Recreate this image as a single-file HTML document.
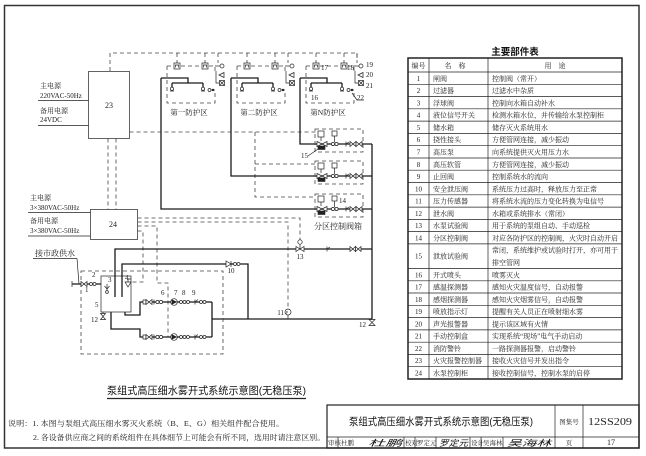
<!DOCTYPE html>
<html><head><meta charset="utf-8">
<style>
html,body{margin:0;padding:0;background:#fff;}
svg{display:block;}
.t{font-family:"Liberation Serif","Noto Serif CJK SC",serif;fill:#222;}
.s{font-family:"Liberation Sans","Noto Sans CJK SC",sans-serif;fill:#111;}
.p{fill:none;stroke:#1a1a1a;stroke-width:1.3;}
.d{fill:none;stroke:#444;stroke-width:0.8;stroke-dasharray:4 3;}
.l{fill:none;stroke:#222;stroke-width:0.7;}
.f{fill:#fff;stroke:#222;stroke-width:0.7;}
.k{fill:#222;stroke:#222;stroke-width:0.6;}
</style></head><body>
<svg width="646" height="456" viewBox="0 0 646 456" xmlns="http://www.w3.org/2000/svg">
<rect width="646" height="456" fill="#fff"/>
<rect x="4.5" y="5.5" width="634.5" height="442.5" fill="none" stroke="#333" stroke-width="1.5"/>

<g class="t" font-size="7">
<text x="40" y="88">主电源</text>
<text x="40" y="98">220VAC-50Hz</text>
<text x="40" y="113">备用电源</text>
<text x="40" y="122">24VDC</text>
<text x="30" y="200">主电源</text>
<text x="30" y="210">3×380VAC-50Hz</text>
<text x="30" y="223">备用电源</text>
<text x="30" y="233">3×380VAC-50Hz</text>
</g>
<path class="l" d="M38,100.5H88.5M38,125.5H88.5M28,212.5H90.5M28,236H90.5"/>
<rect x="88.5" y="71.5" width="41" height="67" class="f"/>
<text x="109" y="108" class="t" font-size="8" text-anchor="middle">23</text>
<rect x="90.5" y="209.5" width="47" height="30" class="f"/>
<text x="113" y="227" class="t" font-size="8" text-anchor="middle">24</text>

<path class="d" d="M110,71V53H357V60"/>
<path class="d" d="M108,138.5V209.5M116,138.5V209.5"/>
<path class="d" d="M129.5,132H316M255,132V197H316M255,164H316"/>
<path class="d" d="M137.5,218H300V240M137.5,222H288V309"/>
<path class="d" d="M137.5,226H157V283H168V337"/>
<path class="d" d="M137.5,231H143V282H131"/>

<g id="zone">
<path class="p" d="M161,78H188V83M172,83H203M172,83V87M203,83V87"/>
<circle cx="172" cy="88.8" r="1.6" class="f"/>
<circle cx="203" cy="88.8" r="1.6" class="f"/>
<path class="l" d="M170,91H174M201,91H205"/>
<path class="d" d="M167,66V103H215V91M167,66H215V71"/>
<path class="d" d="M177,53V63M205,53V63M218,53V63"/>
<rect x="174" y="63" width="6" height="6" class="f"/>
<path class="l" d="M175.5,67.5V65H178.5V67.5"/>
<rect x="202" y="63" width="6" height="6" class="f"/>
<path class="l" d="M203.5,67.5V65H206.5V67.5"/>
<path class="l" d="M215,66H220"/>
<circle cx="222" cy="66" r="2" class="f"/>
<path class="f" d="M219,75L224,72.5L224,77.5Z"/>
<path class="l" d="M216,71V83H219.5"/>
<rect x="219.5" y="80.5" width="5" height="5" class="f"/>
<path class="l" d="M219.5,80.5L224.5,85.5M224.5,80.5L219.5,85.5"/>
<circle cx="209.5" cy="90" r="1.5" class="f"/>
<circle cx="213" cy="90" r="0.9" class="k"/>
<path class="l" d="M211,90H215"/>
</g>
<use href="#zone" x="70"/>
<use href="#zone" x="139"/>

<g class="t" font-size="7.5" text-anchor="middle">
<text x="189" y="115">第一防护区</text>
<text x="259" y="115">第二防护区</text>
<text x="328" y="115">第N防护区</text>
</g>
<g class="t" font-size="7">
<text x="311" y="100">16</text>
<text x="321" y="70">17</text>
<text x="347" y="70">18</text>
<text x="366" y="67">19</text>
<text x="366" y="77">20</text>
<text x="366" y="88">21</text>
<text x="357" y="100">22</text>
</g>
<path class="l" d="M352,93L357,100H364"/>

<path class="p" d="M161,78V209H372M231,78V176H372M300,78V144H372M372,144V319M212,319H372"/>
<path class="p" d="M115,297V249H372M122,297V264H248V319"/>
<path class="p" d="M125,312V315H140V302H212M111,312V329H140V337H212M212,302V337"/>
<path class="p" d="M72,284H104"/>
<path class="l" d="M72,281V287"/>

<g id="vbox">
<path class="d" d="M315,129H363V152H315Z"/>
<rect x="318" y="131" width="6" height="6" class="f"/>
<rect x="332" y="131" width="5" height="5" class="f"/>
<path class="l" d="M321,137V141M334.5,136V142"/>
<path class="f" d="M317,141.5V146.5L327,141.5V146.5Z"/>
<circle cx="333" cy="144" r="1.6" class="f"/>
<circle cx="336.5" cy="144" r="1.6" class="f"/>
<path class="l" d="M346,141.5V146.5M346,144L349,142"/>
<path class="f" d="M350,141.5V146.5L356,141.5V146.5Z"/>
<path class="f" d="M356,141.5V146.5L362,141.5V146.5Z"/>
<rect x="318" y="146" width="7" height="3.5" class="k"/>
</g>
<use href="#vbox" y="32"/>
<use href="#vbox" y="65"/>
<path class="l" d="M308,156L318,149"/>
<g class="t" font-size="7">
<text x="301" y="158">15</text>
<text x="339" y="203">14</text>
</g>
<text x="338" y="229" class="t" font-size="8" text-anchor="middle">分区控制阀箱</text>

<circle cx="300" cy="242" r="2.2" class="f"/>
<path class="l" d="M300,244V249"/>
<path class="f" d="M296,246.5V251.5L304,246.5V251.5Z"/>
<path class="l" d="M327,246.5V251.5M327,249L330,247"/>
<path class="f" d="M350,246.5V251.5L355.5,246.5V251.5Z"/>
<path class="f" d="M355.5,246.5V251.5L361,246.5V251.5Z"/>
<text x="300" y="259" class="t" font-size="7" text-anchor="middle">13</text>

<path class="l" d="M288,315V319"/>
<circle cx="288" cy="312" r="3" class="f"/>
<text x="286" y="314" class="t" font-size="4">P</text>
<text x="284" y="315" class="t" font-size="7" text-anchor="end">11</text>

<path class="f" d="M369,319.5H375L369,325.5H375Z"/>
<text x="366" y="327" class="t" font-size="7" text-anchor="end">12</text>

<path class="f" d="M226,261L231,264L226,267Z"/>
<path class="l" d="M231,261V267"/>
<circle cx="235" cy="264" r="1.5" class="f"/>
<circle cx="238.5" cy="264" r="1.5" class="f"/>
<text x="231" y="273" class="t" font-size="7" text-anchor="middle">10</text>

<path class="d" d="M81,271H223V354H81Z"/>
<rect x="101" y="276" width="30" height="36" class="f"/>
<path class="p" d="M115,276V297M122,276V297"/>
<path class="l" d="M107,284V291M104.5,286L107,289L109.5,286"/>
<circle cx="107" cy="292" r="1.4" class="f"/>
<path class="f" d="M125,282H131L128,287Z"/>
<path class="l" d="M128,282V279H131"/>
<path class="l" d="M103,312V313.5"/>
<path class="f" d="M100.5,313.5H105.5L100.5,319.5H105.5Z"/>
<path class="f" d="M81,281.5V286.5L87,281.5V286.5Z"/>
<circle cx="91" cy="284" r="1.5" class="f"/>
<circle cx="94.5" cy="284" r="1.5" class="f"/>
<path class="l" d="M77,258.5L79,284"/>
<path class="l" d="M33,258.5H77"/>
<text x="35" y="256" class="t" font-size="8">接市政供水</text>
<g class="t" font-size="7">
<text x="85" y="292">1</text>
<text x="92" y="277">2</text>
<text x="108" y="282">3</text>
<text x="125" y="280">4</text>
<text x="95" y="307">5</text>
<text x="91" y="322">12</text>
<text x="161" y="295">6</text>
<text x="174" y="295">7</text>
<text x="182" y="295">8</text>
<text x="192" y="295">9</text>
</g>
<g id="pline">
<rect x="143" y="300" width="3" height="4" class="f"/>
<path class="f" d="M146,299.5V304.5L152,299.5V304.5Z"/>
<path class="l" d="M154,299.5V304.5"/>
<circle cx="157.5" cy="302" r="1.6" class="f"/>
<circle cx="161" cy="302" r="1.6" class="f"/>
<circle cx="174" cy="302" r="3.3" class="f"/>
<path class="k" d="M172,299.8L176.5,302L172,304.2Z"/>
<circle cx="181" cy="302" r="1.5" class="f"/>
<circle cx="184.5" cy="302" r="1.5" class="f"/>
<circle cx="188" cy="302" r="1.5" class="f"/>
<path class="l" d="M195,299.5V304.5M195,302L198,299.5"/>
<circle cx="201" cy="302" r="1.5" class="f"/>
<circle cx="204.5" cy="302" r="1.5" class="f"/>
</g>
<use href="#pline" y="35"/>

<text x="107" y="394" class="s" font-size="10.5" textLength="199" lengthAdjust="spacingAndGlyphs">泵组式高压细水雾开式系统示意图(无稳压泵)</text>
<path d="M107,398.5H306" stroke="#222" stroke-width="1.2"/>

<text x="8" y="426" class="t" font-size="7.5" textLength="276" lengthAdjust="spacingAndGlyphs">说明：1. 本图与泵组式高压细水雾灭火系统（B、E、G）相关组件配合使用。</text>
<text x="33" y="440" class="t" font-size="7.5" textLength="292" lengthAdjust="spacingAndGlyphs">2. 各设备供应商之间的系统组件在具体细节上可能会有所不同，选用时请注意区别。</text>

<rect x="327" y="405" width="312" height="43" fill="none" stroke="#222" stroke-width="1.2"/>
<path class="l" d="M327,437H639M555,405V448M583,405V448M338,437V448M404,437V448M415,437V448M436,437V448M470,437V448M481,437V448M503,437V448"/>
<text x="349" y="425" class="s" font-size="10.5" textLength="184" lengthAdjust="spacingAndGlyphs">泵组式高压细水雾开式系统示意图(无稳压泵)</text>
<text x="569" y="424" class="t" font-size="6.5" text-anchor="middle">图集号</text>
<text x="588" y="425" class="t" font-size="10" textLength="44" lengthAdjust="spacingAndGlyphs">12SS209</text>
<g class="t" font-size="6.5">
<text x="328" y="445">审核</text>
<text x="341" y="445">杜鹏</text>
<text x="405" y="445">校对</text>
<text x="417" y="445">罗定元</text>
<text x="471" y="445">设计</text>
<text x="483" y="445">吴海林</text>
<text x="569" y="445" text-anchor="middle">页</text>
<text x="611" y="445" text-anchor="middle" font-size="8">17</text>
</g>
<g class="s" font-size="8.5" font-style="italic" fill="#333">
<text x="368" y="446" textLength="34" lengthAdjust="spacingAndGlyphs">杜鹏</text>
<text x="439" y="446" textLength="29" lengthAdjust="spacingAndGlyphs">罗定元</text>
<text x="507" y="446" textLength="44" lengthAdjust="spacingAndGlyphs">吴海林</text>
</g>

<text x="515" y="55" class="s" font-size="9.5" font-weight="bold" text-anchor="middle">主要部件表</text>
<rect x="408" y="58" width="214" height="321" fill="none" stroke="#222" stroke-width="1.5"/>
<path class="l" d="M429,58V379M488,58V379M408,72H622M408,84.3H622M408,96.6H622M408,108.8H622M408,121.1H622M408,133.4H622M408,145.7H622M408,158H622M408,170.2H622M408,182.5H622M408,194.8H622M408,207.1H622M408,219.4H622M408,231.6H622M408,243.9H622M408,268.5H622M408,280.8H622M408,293H622M408,305.3H622M408,317.6H622M408,329.9H622M408,342.2H622M408,354.4H622M408,366.7H622"/>
<g class="t" font-size="7">
<text x="418.5" y="68" text-anchor="middle">编号</text>
<text x="455" y="68" text-anchor="middle">名　称</text>
<text x="555" y="68" text-anchor="middle">用　途</text>
</g>
<g class="t" font-size="7" text-anchor="middle">
<text x="418.5" y="80.8">1</text>
<text x="418.5" y="93.1">2</text>
<text x="418.5" y="105.4">3</text>
<text x="418.5" y="117.6">4</text>
<text x="418.5" y="129.9">5</text>
<text x="418.5" y="142.2">6</text>
<text x="418.5" y="154.5">7</text>
<text x="418.5" y="166.8">8</text>
<text x="418.5" y="179">9</text>
<text x="418.5" y="191.3">10</text>
<text x="418.5" y="203.6">11</text>
<text x="418.5" y="215.9">12</text>
<text x="418.5" y="228.2">13</text>
<text x="418.5" y="240.4">14</text>
<text x="418.5" y="258.7">15</text>
<text x="418.5" y="277.3">16</text>
<text x="418.5" y="289.6">17</text>
<text x="418.5" y="301.8">18</text>
<text x="418.5" y="314.1">19</text>
<text x="418.5" y="326.4">20</text>
<text x="418.5" y="338.7">21</text>
<text x="418.5" y="351">22</text>
<text x="418.5" y="363.2">23</text>
<text x="418.5" y="375.5">24</text>
</g>
<g class="t" font-size="7">
<text x="433" y="80.8">闸阀</text>
<text x="433" y="93.1">过滤器</text>
<text x="433" y="105.4">浮球阀</text>
<text x="433" y="117.6">液位信号开关</text>
<text x="433" y="129.9">储水箱</text>
<text x="433" y="142.2">挠性接头</text>
<text x="433" y="154.5">高压泵</text>
<text x="433" y="166.8">高压软管</text>
<text x="433" y="179">止回阀</text>
<text x="433" y="191.3">安全泄压阀</text>
<text x="433" y="203.6">压力传感器</text>
<text x="433" y="215.9">泄水阀</text>
<text x="433" y="228.2">水泵试验阀</text>
<text x="433" y="240.4">分区控制阀</text>
<text x="433" y="258.7">泄放试验阀</text>
<text x="433" y="277.3">开式喷头</text>
<text x="433" y="289.6">感温探测器</text>
<text x="433" y="301.8">感烟探测器</text>
<text x="433" y="314.1">喷放指示灯</text>
<text x="433" y="326.4">声光报警器</text>
<text x="433" y="338.7">手动控制盒</text>
<text x="433" y="351">消防警铃</text>
<text x="433" y="363.2">火灾报警控制器</text>
<text x="433" y="375.5">水泵控制柜</text>

<text x="492" y="80.8">控制阀（常开）</text>
<text x="492" y="93.1">过滤水中杂质</text>
<text x="492" y="105.4">控制向水箱自动补水</text>
<text x="492" y="117.6">检测水箱水位，并传输给水泵控制柜</text>
<text x="492" y="129.9">储存灭火系统用水</text>
<text x="492" y="142.2">方便管网连接，减少振动</text>
<text x="492" y="154.5">向系统提供灭火用压力水</text>
<text x="492" y="166.8">方便管网连接，减少振动</text>
<text x="492" y="179">控制系统水的流向</text>
<text x="492" y="191.3">系统压力过高时，释放压力至正常</text>
<text x="492" y="203.6">将系统水流的压力变化转换为电信号</text>
<text x="492" y="215.9">水箱或系统排水（常闭）</text>
<text x="492" y="228.2">用于系统的泵组自动、手动巡检</text>
<text x="492" y="240.4">对应各防护区的控制阀，火灾时自动开启</text>
<text x="492" y="252.7">常闭，系统维护或试验时打开，亦可用于</text>
<text x="492" y="264.9">排空管网</text>
<text x="492" y="277.3">喷雾灭火</text>
<text x="492" y="289.6">感知火灾温度信号，自动报警</text>
<text x="492" y="301.8">感知火灾烟雾信号，自动报警</text>
<text x="492" y="314.1">提醒有关人员正在喷射细水雾</text>
<text x="492" y="326.4">提示该区域有火情</text>
<text x="492" y="338.7">实现系统“现场”电气手动启动</text>
<text x="492" y="351">一路探测器报警，启动警铃</text>
<text x="492" y="363.2">接收火灾信号并发出指令</text>
<text x="492" y="375.5">接收控制信号，控制水泵的启停</text>
</g>
</svg>
</body></html>
